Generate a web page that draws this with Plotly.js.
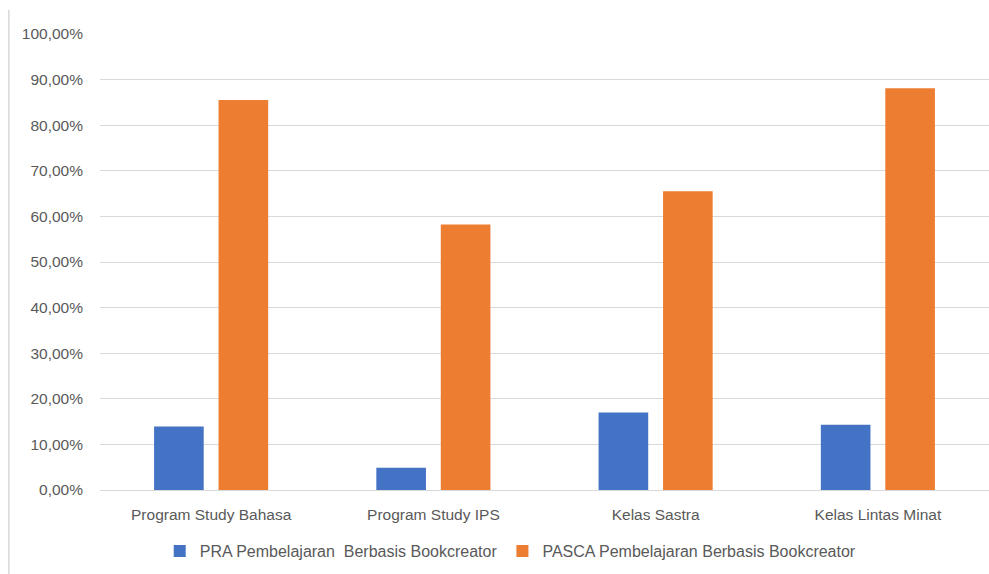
<!DOCTYPE html>
<html>
<head>
<meta charset="utf-8">
<script src="https://cdn.plot.ly/plotly-3.0.1.min.js"></script>
<style>html,body{margin:0;padding:0;background:#fff;}#chart{width:989px;height:574px;}</style>
</head>
<body>
<div id="chart"></div>
<script>
const categories = ["Program Study Bahasa", "Program Study IPS", "Kelas Sastra", "Kelas Lintas Minat"];
const praName = "PRA Pembelajaran  Berbasis Bookcreator";
const pascaName = "PASCA Pembelajaran Berbasis Bookcreator";
const praValues = [0.139, 0.049, 0.170, 0.143];
const pascaValues = [0.855, 0.582, 0.655, 0.881];

const font = {family: "Liberation Sans, Arial, sans-serif", size: 15.5, color: "#595959"};
const legendFont = {family: "Liberation Sans, Arial, sans-serif", size: 16, color: "#595959"};

const traces = [
  {type: "bar", name: praName, x: categories, y: praValues,
   marker: {color: "#4472C4"}, hoverinfo: "skip"},
  {type: "bar", name: pascaName, x: categories, y: pascaValues,
   marker: {color: "#ED7D31"}, hoverinfo: "skip"}
];

const layout = {
  width: 989, height: 574,
  margin: {l: 100, r: 0, t: 34, b: 84},
  paper_bgcolor: "#ffffff", plot_bgcolor: "#ffffff",
  font: font,
  separators: ",.",
  barmode: "group",
  bargap: 0.42,
  bargroupgap: 0.23,
  showlegend: true,
  legend: {orientation: "h", x: 0.462, xanchor: "center", y: -0.134, yanchor: "middle",
           font: legendFont, itemwidth: 30, traceorder: "normal"},
  xaxis: {showgrid: false, showline: true, linecolor: "#d9d9d9", linewidth: 1,
          ticks: "", tickfont: font, ticklabelstandoff: 10, fixedrange: true},
  yaxis: {range: [0, 1], dtick: 0.1, tickformat: ".2%", showgrid: true, gridcolor: "#d9d9d9",
          gridwidth: 1, zeroline: false, showline: false, ticks: "", tickfont: font,
          ticklabelstandoff: 16, fixedrange: true},
  shapes: [
    {type: "line", xref: "paper", yref: "paper", x0: -0.1025, x1: -0.1025, y0: -0.19, y1: 1.053,
     line: {color: "#d9d9d9", width: 1.5}}
  ]
};

Plotly.newPlot("chart", traces, layout, {displayModeBar: false, staticPlot: true});
</script>
</body>
</html>
